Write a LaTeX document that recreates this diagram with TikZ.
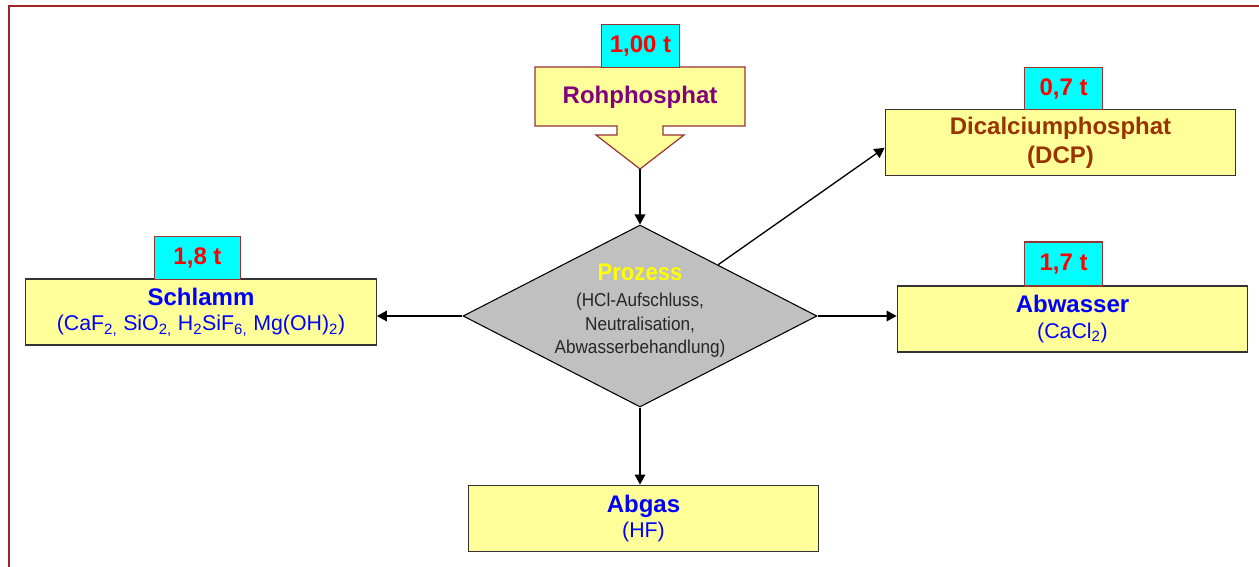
\documentclass[tikz,border=0pt]{standalone}
\usepackage{fontspec}
\setmainfont{Liberation Sans}
\newfontfamily\narrowsans[FakeStretch=0.92]{Liberation Sans}
\usetikzlibrary{shapes.geometric,arrows.meta,calc}
\definecolor{framered}{HTML}{A02424}
\definecolor{boxyellow}{HTML}{FFFF99}
\definecolor{tagcyan}{HTML}{00FFFF}
\definecolor{tagred}{HTML}{FF0000}
\definecolor{tagborder}{HTML}{993333}
\definecolor{flowblue}{HTML}{0000FF}
\definecolor{rohpurple}{HTML}{800080}
\definecolor{dcpbrown}{HTML}{993300}
\definecolor{prozgray}{HTML}{C0C0C0}
\definecolor{prozyellow}{HTML}{FFFF00}
\newcommand{\boxtitle}[1]{{\fontsize{18}{19}\selectfont\bfseries #1}}

\begin{document}
\begin{tikzpicture}[x=0.75pt, y=-0.75pt,
  box/.style={draw=black!80, fill=boxyellow, line width=0.9pt, minimum width=263pt, minimum height=49.5pt, align=center, inner sep=2pt, font=\fontsize{16}{19}\selectfont},
  tag/.style={draw=tagborder, fill=tagcyan, line width=0.9pt, minimum width=59pt, minimum height=32pt, inner sep=0pt, text=tagred, font=\fontsize{18}{21}\selectfont\bfseries},
  arrow/.style={-{Triangle[length=7.5pt, width=8pt]}, line width=1pt, black}
]
\useasboundingbox (0,0) rectangle (1259,567);

% frame
\draw[framered, line width=1.5pt] (1259,6) -- (9,6) -- (9,567);

% Rohphosphat input arrow
\draw[draw=tagborder, fill=boxyellow, line width=0.9pt]
  (535,67) -- (745,67) -- (745,126) -- (663,126) -- (663,135) -- (684,135)
  -- (640,169) -- (596,135) -- (617,135) -- (617,126) -- (535,126) -- cycle;
\node[text=rohpurple, font=\fontsize{18}{21}\selectfont\bfseries] (roh) at (640,97) {Rohphosphat};
\coordinate (rohtip) at (640,169);
\node[tag] (rohtag) at (640.5,46) {1,00 t};

% Prozess
\node[diamond, draw=black, fill=prozgray, line width=0.8pt, minimum width=265.5pt, minimum height=136.5pt, inner sep=0pt] (proz) at (640,316) {};
\node[align=center, font=\narrowsans\fontsize{14}{17.5}\selectfont, text=black!85] (proztext) at (640,311)
  {\textcolor{prozyellow}{\fontsize{18}{19}\selectfont\bfseries Prozess}\\[2pt]
   (HCl-Aufschluss,\\ Neutralisation,\\ Abwasserbehandlung)};

% Schlamm
\node[box, text=flowblue] (schlamm) at (201,312)
  {\boxtitle{Schlamm}\\ (CaF\textsubscript{2,} SiO\textsubscript{2,} H\textsubscript{2}SiF\textsubscript{6,} Mg(OH)\textsubscript{2})};
\node[tag, minimum width=64pt] (schlammtag) at (197.5,258) {1,8 t};

% DCP
\node[box, text=dcpbrown, font=\fontsize{18}{21.5}\selectfont\bfseries] (dcp) at (1060.5,142.5)
  {Dicalciumphosphat\\ (DCP)};
\node[tag] (dcptag) at (1063.5,88.5) {0,7 t};

% Abwasser
\node[box, text=flowblue] (abwasser) at (1072.5,319) {\boxtitle{Abwasser}\\ (CaCl\textsubscript{2})};
\node[tag, minimum width=59pt, minimum height=33pt] (abwassertag) at (1063.5,264) {1,7 t};

% Abgas
\node[box, text=flowblue, minimum height=50pt] (abgas) at (643.5,518.5) {\boxtitle{Abgas}\\ (HF)};

% Arrows
\draw[arrow] (rohtip) -- (proz.north);
\draw[arrow] (proz.west) -- (proz.west -| schlamm.east);
\draw[arrow] (proz.east) -- (proz.east -| abwasser.west);
\draw[arrow] (proz.south) -- (proz.south |- abgas.north);
\draw[arrow] ($(proz.north)!0.44!(proz.east)$) -- ([yshift=-4pt]dcp.west);

\end{tikzpicture}
\end{document}
